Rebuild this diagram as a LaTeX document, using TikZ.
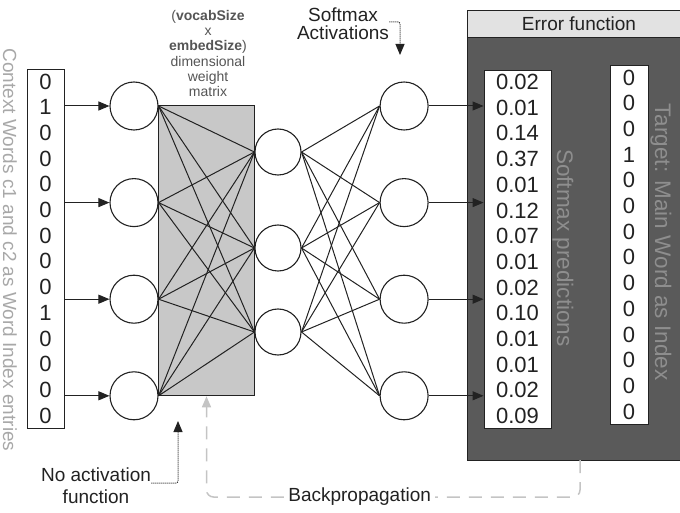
\documentclass[tikz,border=0pt]{standalone}
\usepackage{fontspec}
\setmainfont{Liberation Sans}
\usepackage{tikz}
\usepackage{xcolor}
\usetikzlibrary{backgrounds}
\usetikzlibrary{positioning, fit, arrows.meta}

\definecolor{ink}{HTML}{222222}
\definecolor{panel}{HTML}{5A5A5A}
\definecolor{header}{HTML}{E2E2E2}
\definecolor{wfill}{HTML}{C8C8C8}
\definecolor{sidegray}{HTML}{A8A8A8}
\definecolor{innergray}{HTML}{8E8E8E}
\definecolor{bpgray}{HTML}{C4C4C4}
\definecolor{notegray}{HTML}{555555}

\begin{document}
\begin{tikzpicture}[x=1pt, y=1pt, node distance={47.5pt}, thick,
    main/.style = {draw=ink, circle, fill=white, minimum size=48pt, inner sep=0pt, line width=1.1pt},
    hid/.style = {main, minimum size=46pt},
    vec/.style = {draw=ink, fill=white, line width=0.9pt, inner sep=0pt, align=center, text=ink, font=\fontsize{22}{25.7}\selectfont},
    lbl/.style = {inner sep=0pt, align=center, text=ink, font=\fontsize{19}{18}\selectfont},
    side/.style = {inner sep=0pt, rotate=-90},
    tip/.style = {draw=ink, line width=1pt, -{Triangle[length=11pt, width=9pt]}},
    dots/.style = {draw=ink, line width=1pt, dash pattern=on 1pt off 1pt, rounded corners=2pt, -{Triangle[length=11pt, width=9pt]}},
    bp/.style = {draw=bpgray, line width=1.5pt, dash pattern=on 13pt off 9pt, rounded corners=7pt, -{Triangle[length=11pt, width=9pt]}}]
    \useasboundingbox (0,0) rectangle (680,512);

    % Error function panel
    \draw[draw=ink, fill=panel] (467,52) rectangle (682,502);
    \draw[draw=ink, fill=header] (467,475) rectangle (682,502);
    \node[lbl] (err) at (579,488.5) {Error function};

    % Nodes
    \node[main] (i1) at (134,406) {};
    \node[main] (i2) [below=of i1] {};
    \node[main] (i3) [below=of i2] {};
    \node[main] (i4) [below=of i3] {};

    \node[hid] (h1) at (278,360) {};
    \node[hid] (h2) at (278,264) {};
    \node[hid] (h3) at (278,180) {};

    \node[main] (o1) [right=221pt of i1] {};
    \node[main] (o2) [below=of o1] {};
    \node[main] (o3) [below=of o2] {};
    \node[main] (o4) [below=of o3] {};

    % Vectors
    \node[vec, minimum width=37pt, minimum height=359pt] (vin) at (45.5,263.5)
        {0\\1\\0\\0\\0\\0\\0\\0\\0\\1\\0\\0\\0\\0};
    \node[vec, minimum width=67pt, minimum height=358pt] (pred) at (517.5,263)
        {0.02\\0.01\\0.14\\0.37\\0.01\\0.12\\0.07\\0.01\\0.02\\0.10\\0.01\\0.01\\0.02\\0.09};
    \node[vec, minimum width=38pt, minimum height=359pt] (targ) at (629,267.5)
        {0\\0\\0\\1\\0\\0\\0\\0\\0\\0\\0\\0\\0\\0};

    % Weight matrix
    \begin{scope}[on background layer]
        \node[draw=ink, fill=wfill, line width=1pt, inner sep=0pt, fit=(i1.east) (i4.east -| h1.west)] (wbox) {};
    \end{scope}

    % Labels
    \node[side, text=sidegray, font=\fontsize{19}{19}\selectfont] (ctx) at (10,262) {Context Words c1 and c2 as Word Index entries};
    \node[side, text=innergray, font=\fontsize{22.5}{22.5}\selectfont] (spred) at (563,264) {Softmax predictions};
    \node[side, text=innergray, font=\fontsize{22.5}{22.5}\selectfont] (starg) at (661,270) {Target: Main Word as Index};
    \node[lbl, text=notegray, font=\fontsize{14}{15.3}\selectfont] (wlbl) at (208,458.5)
        {(\textbf{vocabSize}\\x\\\textbf{embedSize})\\dimensional\\weight\\matrix};
    \node[lbl] (smx) at (343,488) {Softmax\\Activations};
    \node[lbl, font=\fontsize{19}{22}\selectfont] (noact) at (96,26) {No activation\\function};
    \coordinate (sa) at (400,457);
    \coordinate (na) at (178,91);
    \coordinate (bpa) at (580,52);
    \coordinate (bpy) at (0,15);

    % Lines
    \foreach \i in {1,...,4} {
        \draw[tip] (vin.east |- i\i) -- (i\i);
        \draw[tip] (o\i) -- (pred.west |- o\i);
        \foreach \j in {1,...,3} {
            \draw[draw=ink, line width=1pt] (i\i.east) -- (h\j.west);
            \draw[draw=ink, line width=1pt] (h\j.east) -- (o\i.west);
        }
    }

    \draw[dots] ([yshift=2pt]smx.east) -| (sa);
    \draw[dots] ([yshift=3pt]noact.east) -| (na);

    \draw[bp] (bpa) |- node[pos=0.795, fill=white, inner sep=4pt, text=ink, font=\fontsize{19}{18}\selectfont] (bpl) {Backpropagation}
        (wbox.south |- bpy) -- (wbox.south);
\end{tikzpicture}
\end{document}
